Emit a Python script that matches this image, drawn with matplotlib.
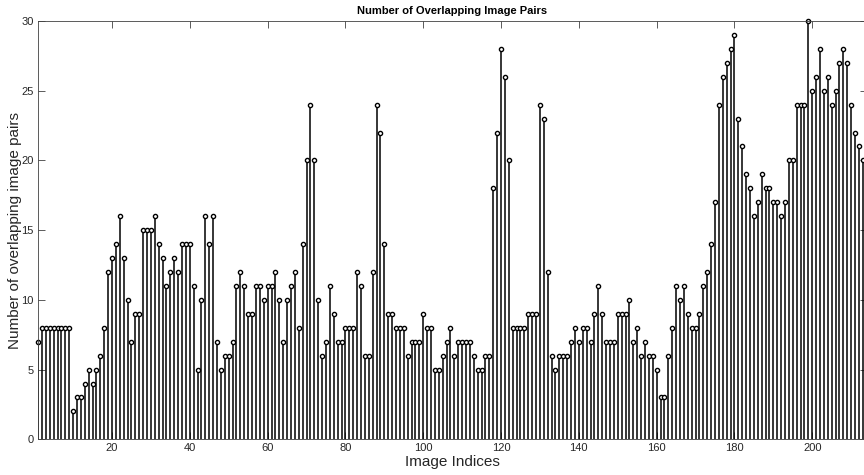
import numpy as np
import matplotlib
matplotlib.use('Agg')
import matplotlib.pyplot as plt

# number of overlapping pairs per image (image 1..214)
pairs_1_40 = [7, 8, 8, 8, 8, 8, 8, 8, 8, 2,
              3, 3, 4, 5, 4, 5, 6, 8, 12, 13,
              14, 16, 13, 10, 7, 9, 9, 15, 15, 15,
              16, 14, 13, 11, 12, 13, 12, 14, 14, 14]
pairs_41_80 = [11, 5, 10, 16, 14, 16, 7, 5, 6, 6,
               7, 11, 12, 11, 9, 9, 11, 11, 10, 11,
               11, 12, 10, 7, 10, 11, 12, 8, 14, 20,
               24, 20, 10, 6, 7, 11, 9, 7, 7, 8]
pairs_81_120 = [8, 8, 12, 11, 6, 6, 12, 24, 22, 14,
                9, 9, 8, 8, 8, 6, 7, 7, 7, 9,
                8, 8, 5, 5, 6, 7, 8, 6, 7, 7,
                7, 7, 6, 5, 5, 6, 6, 18, 22, 28]
pairs_121_160 = [26, 20, 8, 8, 8, 8, 9, 9, 9, 24,
                 23, 12, 6, 5, 6, 6, 6, 7, 8, 7,
                 8, 8, 7, 9, 11, 9, 7, 7, 7, 9,
                 9, 9, 10, 7, 8, 6, 7, 6, 6, 5]
pairs_161_214 = [3, 3, 6, 8, 11, 10, 11, 9, 8, 8,
                 9, 11, 12, 14, 17, 24, 26, 27, 28, 29,
                 23, 21, 19, 18, 16, 17, 19, 18, 18, 17,
                 17, 16, 17, 20, 20, 24, 24, 24, 30, 25,
                 26, 28, 25, 26, 24, 25, 27, 28, 27, 24,
                 22, 21, 20, 25]

pairs = np.array(pairs_1_40 + pairs_41_80 + pairs_81_120 + pairs_121_160 + pairs_161_214)
idx = np.arange(1, len(pairs) + 1)

plt.rcParams['font.family'] = ['Liberation Sans', 'DejaVu Sans']
txt = '#262626'

fig = plt.figure(figsize=(8.64, 4.75), dpi=100)
# the reference is cropped on the right, so the axes run a little past the figure edge
ax = fig.add_axes([38.1 / 864, 35.7 / 475, 828.6 / 864, 418.3 / 475])

markers, stems, base = ax.stem(idx, pairs, linefmt='k-', markerfmt='o', basefmt=' ')
stems.set_linewidth(1.1)
markers.set_markerfacecolor('white')
markers.set_markeredgecolor('black')
markers.set_markersize(3.0)
markers.set_markeredgewidth(1.0)
markers.set_clip_on(False)

ax.set_xlim(1, len(pairs))
ax.set_ylim(0, 30)
ax.set_xticks(np.arange(20, 201, 20))
ax.set_yticks(np.arange(0, 31, 5))
ax.tick_params(direction='in', length=5, width=0.6, top=True, right=True,
               labelsize=8, colors='#404040', labelcolor=txt, pad=3)
for s in ax.spines.values():
    s.set_color('#404040')
    s.set_linewidth(0.6)

ax.set_title('Number of Overlapping Image Pairs', fontsize=8, fontweight='bold',
             color='black', pad=5)
ax.set_xlabel('Image Indices', fontsize=11, color=txt, labelpad=1)
ax.set_ylabel('Number of overlapping image pairs', fontsize=11, color=txt, labelpad=0)

fig.savefig('out.png', dpi=100, facecolor='white')
